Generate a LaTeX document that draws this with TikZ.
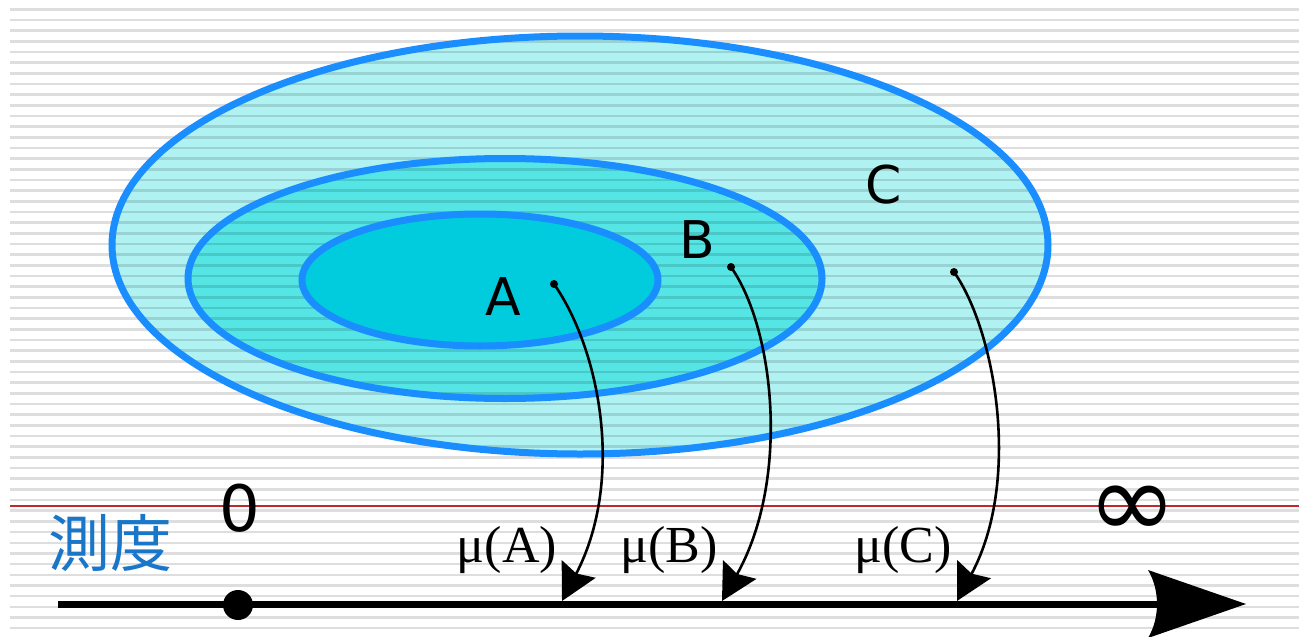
\documentclass[tikz,border=0pt]{standalone}
\usepackage{fontspec}
\setmainfont{DejaVu Sans}
\newfontfamily\serifmu{Liberation Serif}
\newfontfamily\cjk{Noto Sans CJK JP}
\usetikzlibrary{arrows.meta}
\definecolor{cfill}{HTML}{B0F2F2}
\definecolor{bfill}{HTML}{55E5E5}
\definecolor{afill}{HTML}{00CCDD}
\definecolor{rim}{HTML}{1A8EFF}
\definecolor{redline}{HTML}{C0282C}
\definecolor{jpblue}{HTML}{1976C8}
\tikzset{
  rule/.style={line width=2.6pt, black, opacity=0.13},
  rimline/.style={draw=rim, line width=7pt},
  setlabel/.style={font=\fontsize{52}{60}\selectfont, inner sep=0pt},
  mulabel/.style={font=\serifmu\fontsize{52}{58}\selectfont, inner sep=0pt},
  mapping/.style={line width=2.6pt, -{Stealth[length=36pt,width=38pt,inset=5pt]}},
  startdot/.style={circle, fill=black, inner sep=0pt, minimum size=8pt},
}
\begin{document}
\begin{tikzpicture}[x=1pt,y=-1pt]
\useasboundingbox (0,0) rectangle (1299,637);
\fill[white] (0,0) rectangle (1299,637);
% set fills
\fill[cfill] (580,245) ellipse [x radius=468, y radius=209];
\fill[bfill] (505,278.5) ellipse [x radius=317, y radius=120];
% ruled background
\foreach \k in {0,...,58} {
  \draw[rule] (10,9.3+10.67*\k) -- (1299,9.3+10.67*\k);
}
\fill[afill] (480,280) ellipse [x radius=178, y radius=66];
% rims
\draw[rimline] (580,245) ellipse [x radius=468, y radius=209];
\draw[rimline] (505,278.5) ellipse [x radius=317, y radius=120];
\draw[rimline] (480,280) ellipse [x radius=178, y radius=66];
% red line
\draw[redline, line width=2pt] (10,506) -- (1299,506);
% labels
\node[setlabel] (la) at (503,297) {A};
\node[setlabel] (lb) at (697,240) {B};
\node[setlabel] (lc) at (884,185) {C};
\node[font=\fontsize{64}{70}\selectfont, inner sep=0pt] (zero) at (240,508) {0};
\node[font=\fontsize{108}{112}\selectfont, inner sep=0pt] (inf) at (1132,512) {∞};
\node[font=\cjk\fontsize{62}{68}\selectfont, text=jpblue, inner sep=0pt] (sokudo) at (110,543) {測度};
\node[mulabel] (ma) at (507,550) {μ(A)};
\node[mulabel] (mb) at (669,550) {μ(B)};
\node[mulabel] (mc) at (903,550) {μ(C)};
% axis
\coordinate (axs) at (58,604);
\coordinate (axe) at (1160,604);
\draw[line width=7pt] (axs) -- (axe);
\fill (1246,604) -- (1148,570) .. controls (1160,590) and (1160,618) .. (1148,638) -- cycle;
\node[circle, fill=black, inner sep=0pt, minimum size=30pt] (origin) at (238,605) {};
% mapping arrows
\node[startdot] (a0) at (554,284) {};
\node[startdot] (b0) at (731,267) {};
\node[startdot] (c0) at (954,272) {};
\coordinate (a1) at (562,601);
\coordinate (b1) at (722,601);
\coordinate (c1) at (957,601);
\draw[mapping] (a0.center) .. controls (600,350) and (625,480) .. (a1);
\draw[mapping] (b0.center) .. controls (775,330) and (790,480) .. (b1);
\draw[mapping] (c0.center) .. controls (995,330) and (1022,480) .. (c1);
\end{tikzpicture}
\end{document}
